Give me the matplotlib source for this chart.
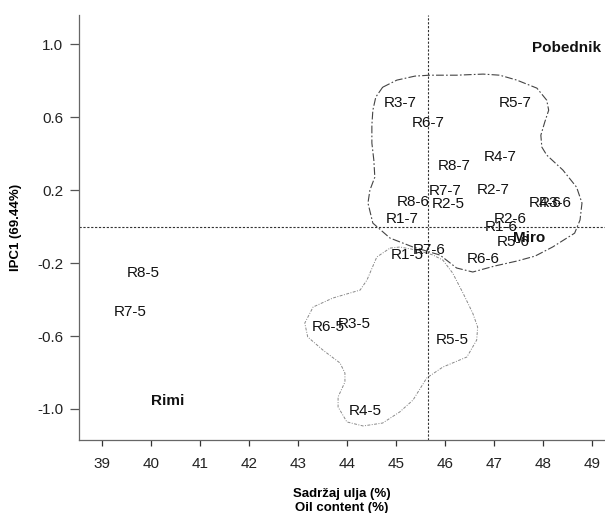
import matplotlib
matplotlib.use('Agg')
import matplotlib.pyplot as plt

plt.rcParams['font.family'] = ['Liberation Sans', 'DejaVu Sans']
plt.rcParams['font.size'] = 11

# oznake genotipova i njihove koordinate (sadrzaj ulja, IPC1)
labels = ['R3-7', 'R5-7', 'R6-7', 'R4-7', 'R8-7', 'R7-7', 'R2-7', 'R8-6', 'R2-5',
          'R4-6', 'R3-6', 'R1-7', 'R1-6', 'R2-6', 'R5-6', 'R6-6', 'R7-6', 'R1-5',
          'R6-5', 'R3-5', 'R5-5', 'R4-5', 'R8-5', 'R7-5']
oil = [45.08, 47.43, 45.65, 47.14, 46.20, 46.00, 46.98, 45.35, 46.06,
       48.06, 48.25, 45.12, 47.16, 47.33, 47.39, 46.78, 45.69, 45.24,
       43.61, 44.16, 46.16, 44.37, 39.84, 39.57]
ipc1 = [0.68, 0.68, 0.57, 0.38, 0.33, 0.195, 0.20, 0.134, 0.123,
        0.129, 0.129, 0.04, 0.00, 0.04, -0.085, -0.178, -0.13, -0.157,
        -0.55, -0.535, -0.62, -1.01, -0.254, -0.468]

# standardne sorte (podebljano)
std_labels = ['Pobednik', 'Miro', 'Rimi']
std_oil = [48.49, 47.73, 40.35]
std_ipc1 = [0.98, -0.065, -0.956]

# srednje vrijednosti (isprekidane linije)
mean_oil = 45.65
mean_ipc1 = 0.0

# obrisi grupa
group7_x = [44.73, 45.02, 45.39, 45.69, 46.24, 46.78, 47.12, 47.47, 47.88, 48.08,
            48.12, 48.04, 47.96, 47.98, 48.08, 48.41, 48.69, 48.80, 48.76, 48.65,
            48.20, 47.84, 47.47, 47.02, 46.57, 46.24, 45.90, 45.35, 44.88, 44.53,
            44.43, 44.47, 44.57, 44.55, 44.51, 44.51, 44.53, 44.59]
group7_y = [0.764, 0.803, 0.825, 0.830, 0.830, 0.836, 0.830, 0.803, 0.759, 0.693,
            0.638, 0.573, 0.501, 0.436, 0.392, 0.310, 0.216, 0.129, 0.036, -0.036,
            -0.112, -0.162, -0.189, -0.216, -0.249, -0.227, -0.156, -0.112, -0.063, 0.019,
            0.129, 0.200, 0.271, 0.364, 0.458, 0.556, 0.638, 0.710]
group5_x = [44.88, 45.08, 45.43, 45.76, 45.96, 46.16, 46.37, 46.57, 46.67, 46.65,
            46.45, 45.96, 45.63, 45.35, 45.08, 44.73, 44.33, 44.00, 43.82, 43.82,
            43.96, 43.96, 43.86, 43.51, 43.20, 43.14, 43.31, 43.71, 44.27, 44.41, 44.61]
group5_y = [-0.118, -0.112, -0.129, -0.156, -0.184, -0.255, -0.364, -0.475, -0.551, -0.622,
            -0.715, -0.770, -0.830, -0.951, -1.016, -1.077, -1.093, -1.071, -0.989, -0.934,
            -0.852, -0.803, -0.748, -0.677, -0.605, -0.529, -0.441, -0.392, -0.348, -0.293, -0.167]

xticks = [39, 40, 41, 42, 43, 44, 45, 46, 47, 48, 49]
yticks = [1.0, 0.6, 0.2, -0.2, -0.6, -1.0]
ytick_labels = ['1.0', '0.6', '0.2', '-0.2', '-0.6', '-1.0']

fig = plt.figure(figsize=(6.05, 5.13), dpi=100)
ax = fig.add_axes([79 / 605, 73 / 513, 526 / 605, 425 / 513])

for lab, x, y in zip(labels, oil, ipc1):
    ax.text(x, y, lab, ha='center', va='center', fontsize=11, color='#111111')
for lab, x, y in zip(std_labels, std_oil, std_ipc1):
    ax.text(x, y, lab, ha='center', va='center', fontsize=11, fontweight='bold', color='#111111')

ax.axvline(mean_oil, color='#333333', lw=0.8, ls=(0, (2, 1.5)))
ax.axhline(mean_ipc1, color='#333333', lw=0.8, ls=(0, (2, 1.5)))

ax.plot(group7_x + group7_x[:1], group7_y + group7_y[:1], color='#444444', lw=0.8,
        ls=(0, (7, 2, 1.5, 2)))
ax.plot(group5_x + group5_x[:1], group5_y + group5_y[:1], color='#888888', lw=0.7,
        ls=(0, (3, 1.5, 1, 1.5)))

ax.set_xlim(38.53, 49.27)
ax.set_ylim(-1.17, 1.16)
ax.set_xticks(xticks)
ax.set_yticks(yticks)
ax.set_yticklabels(ytick_labels)

for s in ['top', 'right']:
    ax.spines[s].set_visible(False)
for s in ['left', 'bottom']:
    ax.spines[s].set_color('#666666')
    ax.spines[s].set_linewidth(0.9)
ax.tick_params(axis='x', length=4.3, width=0.9, color='#333333', pad=8, labelsize=11, labelcolor='#222222')
ax.tick_params(axis='y', length=6.5, width=0.9, color='#555555', pad=5, labelsize=11, labelcolor='#222222')

ax.set_xlabel('Sadržaj ulja (%)\nOil content (%)', fontsize=9.5, fontweight='bold',
              linespacing=1.2, labelpad=12)
ax.set_ylabel('IPC1 (69.44%)', fontsize=9.5, fontweight='bold', labelpad=11)

plt.savefig('out.png', dpi=100)
